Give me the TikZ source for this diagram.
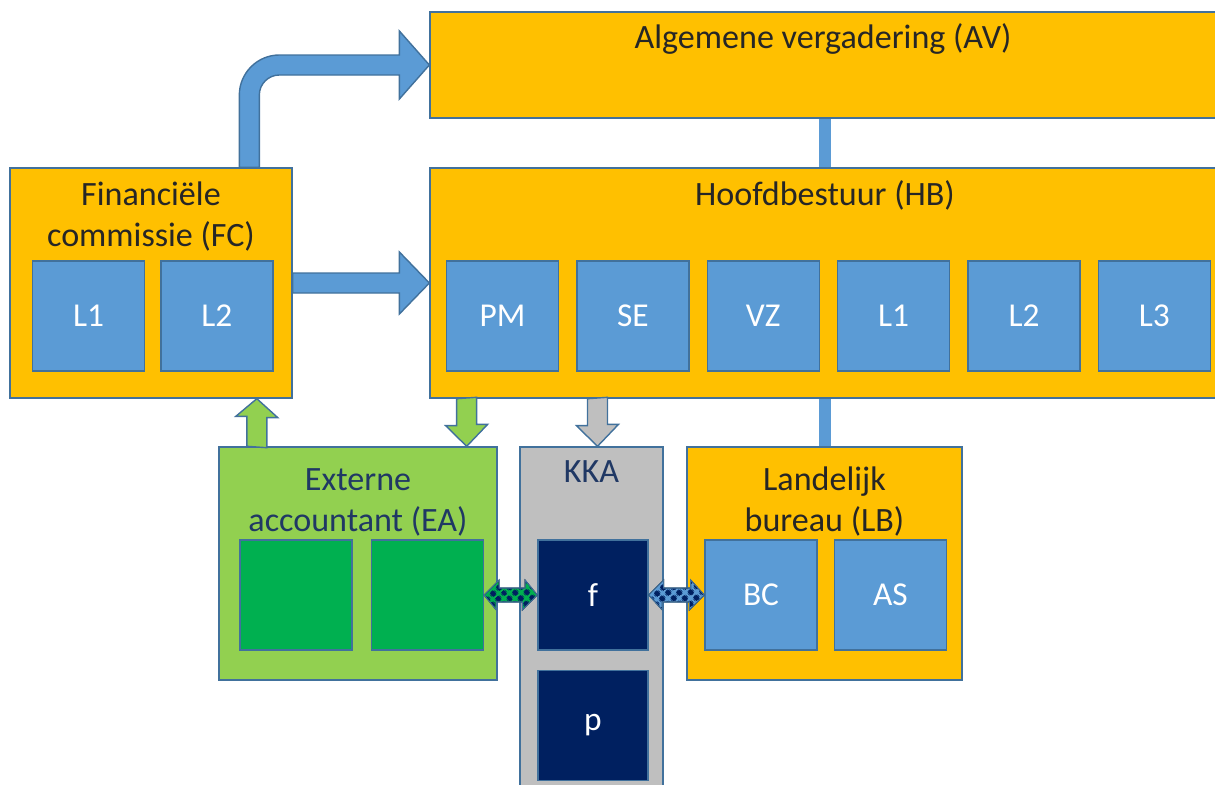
\documentclass[tikz,border=0pt]{standalone}
\usepackage{fontspec}
\setmainfont{Carlito}
\usetikzlibrary{positioning,calc,patterns.meta}

\definecolor{gold}{HTML}{FFC000}
\definecolor{sky}{HTML}{5B9BD5}
\definecolor{lime}{HTML}{92D050}
\definecolor{leaf}{HTML}{00B050}
\definecolor{ash}{HTML}{BFBFBF}
\definecolor{navy}{HTML}{002060}
\definecolor{edge}{HTML}{41719C}
\definecolor{ink}{HTML}{262626}
\definecolor{navyink}{HTML}{203864}

\tikzdeclarepattern{
  name=knots,
  type=uncolored,
  bottom left={(0pt,0pt)},
  top right={(4.4pt,4.4pt)},
  tile size={(4.4pt,4.4pt)},
  tile transformation={rotate=45},
  code={\fill (2.2pt,2.2pt) circle (1.95pt);}
}

\begin{document}
\begin{tikzpicture}[x=0.02cm, y=-0.02cm,
    box/.style={draw=edge, line width=0.8pt, rectangle, inner sep=0pt},
    orgbox/.style={box, fill=gold},
    member/.style={box, fill=sky, minimum width=2.24cm, minimum height=2.2cm,
      text=white, font=\fontsize{19pt}{23pt}\selectfont},
    kmember/.style={member, fill=navy, minimum width=2.2cm},
    emember/.style={member, fill=leaf},
    heading/.style={anchor=base, align=center, text=ink,
      font=\fontsize{19.4pt}{23pt}\selectfont},
    blockarrow/.style={draw=edge, line width=0.8pt, fill=#1},
    link/.style={draw=sky, line width=0.24cm},
    dataflow/.style={fill=#1, postaction={pattern=knots, pattern color=navy},
      postaction={draw=edge, line width=0.6pt}}]
  \useasboundingbox (0,0) rectangle (1215,785);

  % organen
  \node[orgbox, minimum width=15.74cm, minimum height=2.12cm] (av) at (823.5,65) {};
  \node[orgbox, minimum width=15.74cm, minimum height=4.6cm] (hb) at (823.5,283) {};
  \node[orgbox, minimum width=5.64cm, minimum height=4.6cm] (fc) at (151,283) {};
  \node[box, fill=lime, minimum width=5.56cm, minimum height=4.66cm] (ea) at (358,563.5) {};
  \node[box, fill=ash, minimum width=2.86cm, minimum height=7.06cm] (kka) at (591.5,623.5) {};
  \node[orgbox, minimum width=5.5cm, minimum height=4.66cm] (lb) at (824.5,563.5) {};

  \node[heading] (avt) at (823,48) {Algemene vergadering (AV)};
  \node[heading] (hbt) at (825,205) {Hoofdbestuur (HB)};
  \node[heading] (fct) at (151,246) {Financiële\\commissie (FC)};
  \node[heading, text=navyink] (eat) at (358,531) {Externe\\accountant (EA)};
  \node[heading, text=navyink] (kkat) at (591.5,482) {KKA};
  \node[heading] (lbt) at (824.5,531) {Landelijk\\bureau (LB)};

  % leden
  \node[member] (fcl1) at (88.5,316) {L1};
  \node[member, right=0.3cm of fcl1] (fcl2) {L2};
  \node[member] (pm) at (502.5,316) {PM};
  \foreach \n/\t [remember=\n as \prev (initially pm)] in {se/SE, vz/VZ, hbl1/L1, hbl2/L2, hbl3/L3}
    \node[member, right=0.34cm of \prev] (\n) {\t};
  \node[emember] (ea1) at (296,595) {};
  \node[emember, right=0.36cm of ea1] (ea2) {};
  \node[kmember] (f) at (593,595) {f};
  \node[kmember, below=0.38cm of f] (p) {p};
  \node[member] (bc) at (761,595) {BC};
  \node[member, right=0.32cm of bc] (as) {AS};

  % lijnen en pijlen
  \draw[link] (av.south -| lb.north) -- (hb.north -| lb.north);
  \draw[link] (hb.south -| lb.north) -- (lb.north);

  \coordinate (fcav) at ($(fc.north west)+(240,0)$);
  \coordinate (bend) at (fcav |- av.west);
  \draw[blockarrow=sky] ($(fcav)+(-10,0)$) -- ($(bend)+(-10,30)$)
    .. controls +(0,-22) and +(-22,0) .. ($(bend)+(30,-10)$)
    -- ($(av.west)+(-30,-10)$) -- ++(0,-24) -- (av.west) -- ++(-30,34) -- ++(0,-24)
    -- ($(bend)+(30,10)$) .. controls +(-11,0) and +(0,-11) .. ($(bend)+(10,30)$)
    -- ($(fcav)+(10,0)$) -- cycle;

  \draw[blockarrow=sky] ($(fc.east)+(0,-10)$) -- ($(hb.west)+(-30,-10)$) -- ++(0,-21)
    -- (hb.west) -- ++(-30,31) -- ++(0,-21) -- ($(fc.east)+(0,10)$) -- cycle;

  \coordinate (eafc) at ($(ea.north west)+(38.5,0)$);
  \draw[blockarrow=lime] ($(eafc)+(-10,0)$) -- ++(0,-30) -- ++(-11,0) -- (eafc |- fc.south)
    -- ++(21,19) -- ++(-11,0) -- ++(0,30) -- cycle;

  \coordinate (hbea) at ($(ea.north east)+(-31,0)$);
  \draw[blockarrow=lime] ($(hbea |- hb.south)+(-10,0)$) -- ++(0,27) -- ++(-11,0) -- (hbea)
    -- ++(21,-22) -- ++(-11,0) -- ++(0,-27) -- cycle;

  \coordinate (hbkka) at ($(kka.north)+(6,0)$);
  \draw[blockarrow=ash] ($(hbkka |- hb.south)+(-10,0)$) -- ++(0,27) -- ++(-11,0) -- (hbkka)
    -- ++(21,-22) -- ++(-11,0) -- ++(0,-27) -- cycle;

  \draw[dataflow=leaf] (ea2.east) -- ++(15,-15) -- ++(0,8) -- ++(26,0) -- ++(0,-8) -- (f.west)
    -- ++(-15,15) -- ++(0,-8) -- ++(-26,0) -- ++(0,8) -- cycle;
  \draw[dataflow=sky] (f.east) -- ++(15,-15) -- ++(0,8) -- ++(27,0) -- ++(0,-8) -- (bc.west)
    -- ++(-15,15) -- ++(0,-8) -- ++(-27,0) -- ++(0,8) -- cycle;
\end{tikzpicture}
\end{document}
